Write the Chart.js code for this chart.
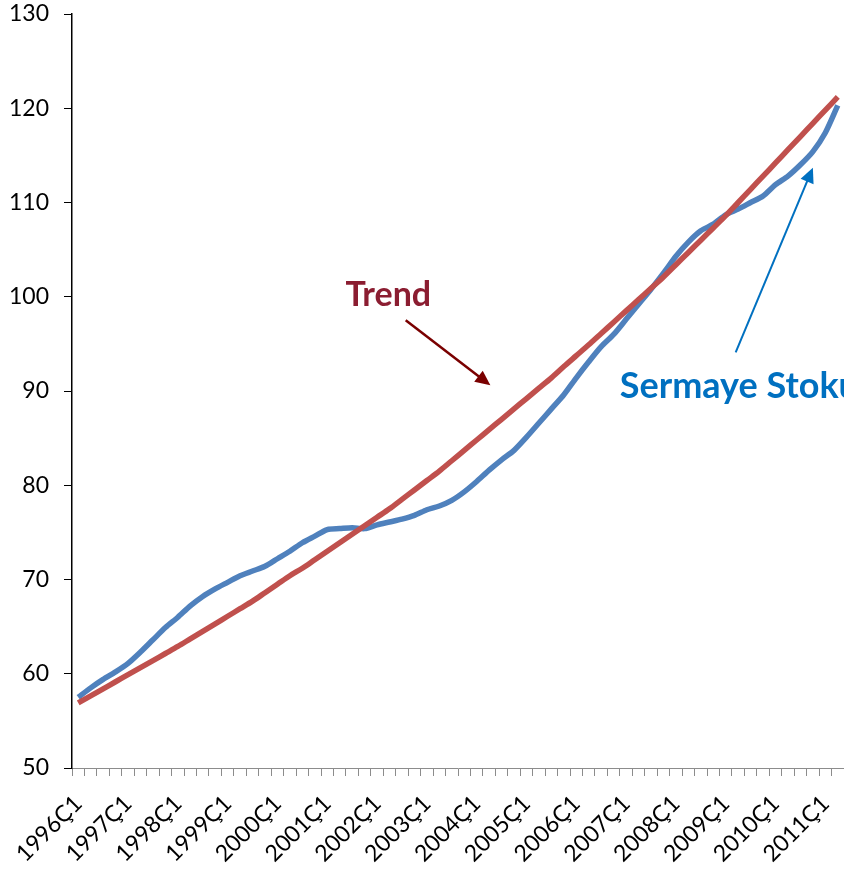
<!DOCTYPE html>
<html>
<head>
<meta charset="utf-8">
<script src="https://cdn.jsdelivr.net/npm/chart.js"></script>
<style>
  html, body { margin: 0; padding: 0; background: #fff; }
  #wrap { width: 844px; height: 871px; position: relative; }
</style>
</head>
<body>
<div id="wrap"><canvas id="grafik"></canvas></div>
<script>
// quarters 1996Ç1 .. 2011Ç2
let quarters = [
    "1996Ç1", "1996Ç2", "1996Ç3", "1996Ç4",
    "1997Ç1", "1997Ç2", "1997Ç3", "1997Ç4",
    "1998Ç1", "1998Ç2", "1998Ç3", "1998Ç4",
    "1999Ç1", "1999Ç2", "1999Ç3", "1999Ç4",
    "2000Ç1", "2000Ç2", "2000Ç3", "2000Ç4",
    "2001Ç1", "2001Ç2", "2001Ç3", "2001Ç4",
    "2002Ç1", "2002Ç2", "2002Ç3", "2002Ç4",
    "2003Ç1", "2003Ç2", "2003Ç3", "2003Ç4",
    "2004Ç1", "2004Ç2", "2004Ç3", "2004Ç4",
    "2005Ç1", "2005Ç2", "2005Ç3", "2005Ç4",
    "2006Ç1", "2006Ç2", "2006Ç3", "2006Ç4",
    "2007Ç1", "2007Ç2", "2007Ç3", "2007Ç4",
    "2008Ç1", "2008Ç2", "2008Ç3", "2008Ç4",
    "2009Ç1", "2009Ç2", "2009Ç3", "2009Ç4",
    "2010Ç1", "2010Ç2", "2010Ç3", "2010Ç4",
    "2011Ç1", "2011Ç2"
];

let sermayeStoku = [
    57.5, 58.5, 59.4, 60.2, 61.1, 62.3, 63.6, 64.9,
    66.0, 67.2, 68.2, 69.0, 69.7, 70.4, 70.9, 71.4,
    72.2, 73.0, 73.9, 74.6, 75.3, 75.4, 75.5, 75.4,
    75.8, 76.1, 76.4, 76.8, 77.4, 77.8, 78.4, 79.3,
    80.4, 81.6, 82.7, 83.7, 85.1, 86.6, 88.1, 89.6,
    91.4, 93.1, 94.7, 96.0, 97.6, 99.2, 100.8, 102.5,
    104.3, 105.8, 107.0, 107.7, 108.7, 109.3, 110.0, 110.7,
    111.9, 112.8, 114.0, 115.4, 117.4, 120.3
];

let trend = [
    56.9, 57.65, 58.4, 59.15, 59.9, 60.65, 61.4, 62.15,
    62.9, 63.7, 64.5, 65.3, 66.1, 66.9, 67.7, 68.6,
    69.5, 70.4, 71.2, 72.1, 73.0, 73.9, 74.8, 75.7,
    76.6, 77.5, 78.5, 79.5, 80.5, 81.5, 82.6, 83.7,
    84.8, 85.9, 87.0, 88.1, 89.2, 90.3, 91.4, 92.6,
    93.75, 94.9, 96.1, 97.3, 98.5, 99.7, 100.9, 102.1,
    103.4, 104.7, 106.0, 107.3, 108.6, 110.0, 111.4, 112.8,
    114.2, 115.6, 117.0, 118.4, 119.8, 121.2
];

// annotation anchors in data units (category index, value)
let notes = [
    { text: "Trend", color: "#8B1D31", size: 34, at: [24.9, 100.2], align: "center",
      arrowFrom: [26.3, 97.5], arrowTo: [33.1, 90.6], arrowColor: "#7A0000", arrowWidth: 2.5 },
    { text: "Sermaye Stoku", color: "#0070C0", size: 36, at: [43.5, 90.5], align: "left",
      arrowFrom: [52.8, 94.1], arrowTo: [59.0, 113.7], arrowColor: "#0070C0", arrowWidth: 2 }
];

let fontName = "Lato, 'Open Sans', sans-serif";

function drawArrow(ctx, x1, y1, x2, y2, color, width) {
    let ang = Math.atan2(y2 - y1, x2 - x1);
    let head = 15, half = 7;
    ctx.save();
    ctx.strokeStyle = color;
    ctx.fillStyle = color;
    ctx.lineWidth = width;
    ctx.beginPath();
    ctx.moveTo(x1, y1);
    ctx.lineTo(x2 - Math.cos(ang) * head * 0.8, y2 - Math.sin(ang) * head * 0.8);
    ctx.stroke();
    ctx.beginPath();
    ctx.moveTo(x2, y2);
    ctx.lineTo(x2 - Math.cos(ang) * head + Math.sin(ang) * half, y2 - Math.sin(ang) * head - Math.cos(ang) * half);
    ctx.lineTo(x2 - Math.cos(ang) * head - Math.sin(ang) * half, y2 - Math.sin(ang) * head + Math.cos(ang) * half);
    ctx.closePath();
    ctx.fill();
    ctx.restore();
}

let notesPlugin = {
    id: "notes",
    afterDatasetsDraw(chart) {
        let ctx = chart.ctx;
        let xs = chart.scales.x, ys = chart.scales.y;
        notes.forEach(n => {
            ctx.save();
            ctx.font = "bold " + n.size + "px " + fontName;
            ctx.fillStyle = n.color;
            ctx.textAlign = n.align;
            ctx.textBaseline = "middle";
            ctx.fillText(n.text, xs.getPixelForValue(n.at[0]), ys.getPixelForValue(n.at[1]));
            ctx.restore();
            drawArrow(ctx,
                xs.getPixelForValue(n.arrowFrom[0]), ys.getPixelForValue(n.arrowFrom[1]),
                xs.getPixelForValue(n.arrowTo[0]), ys.getPixelForValue(n.arrowTo[1]),
                n.arrowColor, n.arrowWidth);
        });
    }
};

new Chart(document.getElementById("grafik"), {
    type: "line",
    data: {
        labels: quarters,
        datasets: [
            {
                label: "Trend",
                data: trend,
                borderColor: "#C0504D",
                borderWidth: 5.5,
                pointRadius: 0,
                tension: 0.3,
                order: 1
            }, {
                label: "Sermaye Stoku",
                data: sermayeStoku,
                borderColor: "#4F81BD",
                borderWidth: 5.5,
                pointRadius: 0,
                tension: 0.25,
                order: 2
            }
        ]
    },
    options: {
        responsive: true,
        maintainAspectRatio: false,
        animation: false,
        layout: { padding: { top: 0, right: 0, left: 0, bottom: 0 } },
        plugins: {
            legend: { display: false },
            tooltip: { enabled: false }
        },
        scales: {
            x: {
                offset: true,
                grid: {
                    offset: true,
                    drawOnChartArea: false,
                    tickLength: 8,
                    color: "#8C8C8C"
                },
                border: { color: "#8C8C8C", width: 1 },
                ticks: {
                    autoSkip: false,
                    maxRotation: 45,
                    minRotation: 45,
                    padding: 14,
                    color: "#000",
                    font: { family: fontName, size: 23 },
                    callback: (v, i) => i % 4 === 0 ? quarters[i] : ""
                },
                afterFit: (scale) => {
                    scale.height = 103;
                    scale.paddingLeft = 0;
                    scale.paddingRight = 0;
                }
            },
            y: {
                min: 50,
                max: 130,
                grid: {
                    drawOnChartArea: false,
                    tickLength: 8,
                    color: "#000"
                },
                border: { color: "#000", width: 1.5 },
                ticks: {
                    stepSize: 10,
                    padding: 15,
                    color: "#000",
                    font: { family: fontName, size: 23 }
                },
                afterFit: (scale) => {
                    scale.width = 72;
                    scale.paddingTop = 14;
                }
            }
        }
    },
    plugins: [notesPlugin]
});
</script>
</body>
</html>
